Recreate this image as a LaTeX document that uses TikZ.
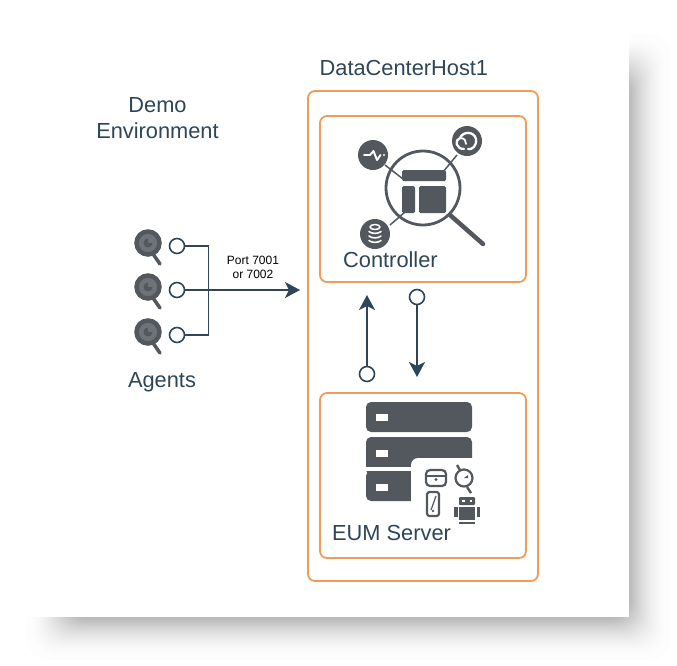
\documentclass[tikz,border=0pt]{standalone}
\usepackage{fontspec}
\setmainfont{Liberation Sans}
\usetikzlibrary{arrows.meta,positioning}
\definecolor{linkblue}{HTML}{2F4558}
\definecolor{icongray}{HTML}{53585F}
\definecolor{lensgray}{HTML}{6E7378}
\definecolor{boxorange}{HTML}{EE9C5A}
\tikzset{
  framebox/.style={draw=boxorange,line width=1.8pt,rounded corners=7pt,inner sep=0pt},
  portdot/.style={circle,draw=linkblue,fill=white,line width=1.6pt,minimum size=15pt,inner sep=0pt},
  biglabel/.style={text=linkblue,font=\fontsize{21.8}{26}\selectfont,inner sep=0pt},
  iconline/.style={draw=icongray,line width=2.2pt},
  iconblock/.style={fill=icongray,rounded corners=1.5pt},
  glyph/.style={draw=white,line width=1.9pt,line cap=round,line join=round},
}
\begin{document}
\begin{tikzpicture}[x=1pt,y=-1pt,>={Stealth[length=15pt,width=16pt,inset=4pt]}]
      \useasboundingbox (0,0) rectangle (677,665);
      \foreach \i in {0,...,59} {
        \pgfmathsetmacro{\inset}{42*sqrt(\i/36)}
        \fill[black,opacity=0.009,rounded corners=22pt] (26+\inset,34+\inset) rectangle (671-\inset,660-\inset);
      }
      \fill[white] (17,17) rectangle (629,617);

      \node (hostbox) [framebox,minimum width=230pt,minimum height=490pt] at (423,336) {};
      \node (ctrlbox) [framebox,minimum width=206pt,minimum height=166pt] at (423,199) {};
      \node (eumbox) [framebox,minimum width=206pt,minimum height=165pt] at (423,475.5) {};
      \node (hostlabel) [biglabel,anchor=south west] at (319.5,76) {DataCenterHost1};
      \node (demolabel) [biglabel] at (157.5,105) {Demo};
      \node (envlabel) [biglabel] at (157.5,131) {Environment};
      \node (agentslabel) [biglabel] at (162,382) {Agents};
      \node (ctrllabel) [biglabel,anchor=west] at (343,260) {Controller};
      \node (eumlabel) [biglabel,anchor=west] at (332,533) {EUM Server};

      \foreach \name/\ypos in {a/243,b/287,c/332} {
        \draw[icongray,line width=3.5pt,line cap=round] (153,\ypos+11) -- (160,\ypos+21);
        \fill[lensgray,draw=icongray,line width=4.5pt] (148,\ypos) circle (11.5pt);
        \fill[icongray] (148,\ypos) circle (4.5pt);
        \fill[lensgray] (148,\ypos) rectangle (153,\ypos-5);
        \node (port\name) [portdot] at (177,\ypos+3) {};
      }

      \coordinate (joint) at (208.5,290);
      \coordinate (porttip) at (300,290);
      \draw[linkblue,line width=1.8pt] (porta.east) -| (joint) |- (portc.east);
      \draw[->,linkblue,line width=1.8pt] (portb.east) -- (porttip);
      \node (portlabel) [align=center,font=\fontsize{12}{14}\selectfont,inner sep=0pt] at (253,267.5) {Port 7001\\or 7002};

      \node (upstart) [portdot] at (367,374) {};
      \node (downstart) [portdot] at (417,297) {};
      \coordinate (uptip) at (367,295);
      \coordinate (downtip) at (417,377);
      \draw[->,linkblue,line width=1.8pt] (upstart) -- (uptip);
      \draw[->,linkblue,line width=1.8pt] (downstart) -- (downtip);

      % controller icon
      \draw[icongray,line width=1.5pt] (385,165) -- (403,179);
      \draw[icongray,line width=1.5pt] (457,155) -- (443,172);
      \draw[icongray,line width=1.5pt] (390,225) -- (405,212);
      \draw[icongray,line width=2.8pt] (423,188) circle (37pt);
      \draw[icongray,line width=4.5pt,line cap=round] (450,215) -- (483,244);
      \fill[iconblock] (402,170) rectangle (446,181);
      \fill[iconblock] (402,186) rectangle (415,213);
      \fill[iconblock] (419,186) rectangle (446,213);
      \fill[icongray] (373,155) circle (15pt);
      \fill[icongray] (467,141) circle (15pt);
      \fill[icongray] (375,234) circle (15pt);
      \draw[glyph] (364,155) -- (370,155) -- (373.5,151) -- (377,160) -- (380.5,155);
      \fill[white] (384,155) circle (1.2pt);
      \draw[glyph,line width=2.3pt] (464,149) .. controls (456,149) and (454,140) .. (460,138) .. controls (463,131) and (474,131) .. (476,139) .. controls (477,146) and (472,150) .. (468,149);
      \draw[glyph,line width=1.8pt] (460,138) .. controls (465,138) and (466,141) .. (466,144);
      \draw[glyph,line width=1.5pt] (375,227) ellipse (5pt and 2.5pt);
      \draw[glyph,line width=1.6pt] (369,231.5) .. controls (372,234) and (378,234) .. (381,231.5);
      \draw[glyph,line width=1.6pt] (369,236) .. controls (372,238.5) and (378,238.5) .. (381,236);
      \draw[glyph,line width=1.6pt] (369,240.5) .. controls (372,243) and (378,243) .. (381,240.5);

      % server icon
      \fill[icongray,rounded corners=5pt] (366,402) rectangle (472,432);
      \fill[icongray,rounded corners=5pt] (366,437) rectangle (472,475);
      \fill[icongray,rounded corners=5pt] (366,471) rectangle (420,501);
      \fill[white,rounded corners=7pt] (411,458) rectangle (490,520);
      \fill[white] (411,470) rectangle (430,510);
      \fill[white] (376,414) rectangle (388,421);
      \fill[white] (376,450) rectangle (388,457);
      \fill[white] (376,484) rectangle (388,491);
      \fill[white] (366,467) rectangle (411,471);

      % client icons
      \draw[iconline,rounded corners=4pt] (426,470) rectangle (446,486);
      \draw[iconline] (426,476) -- (446,476);
      \fill[icongray] (436,479.5) circle (1.7pt);
      \draw[iconline,rounded corners=2.5pt] (427,492) rectangle (439,516);
      \draw[icongray,line width=1.2pt] (431,510) -- (436,496);
      \fill[icongray] (433,511) circle (1.3pt);
      \draw[iconline] (464,478) circle (8.5pt);
      \draw[icongray,line width=2.4pt] (457,465) -- (460,470);
      \draw[icongray,line width=2.4pt] (467,487) -- (471,493);
      \fill[icongray] (464,478) -- (468,478) -- (468,475) -- cycle;
      \fill[icongray,rounded corners=1pt] (459,497) rectangle (475,505);
      \fill[white] (462,499.5) rectangle (464.5,502);
      \fill[white] (469.5,499.5) rectangle (472,502);
      \fill[icongray] (459,507) rectangle (475,520);
      \fill[icongray] (454,507) rectangle (457.5,517);
      \fill[icongray] (476.5,507) rectangle (479.5,517);
      \fill[icongray] (459,521.5) rectangle (475,523.5);
\end{tikzpicture}
\end{document}
